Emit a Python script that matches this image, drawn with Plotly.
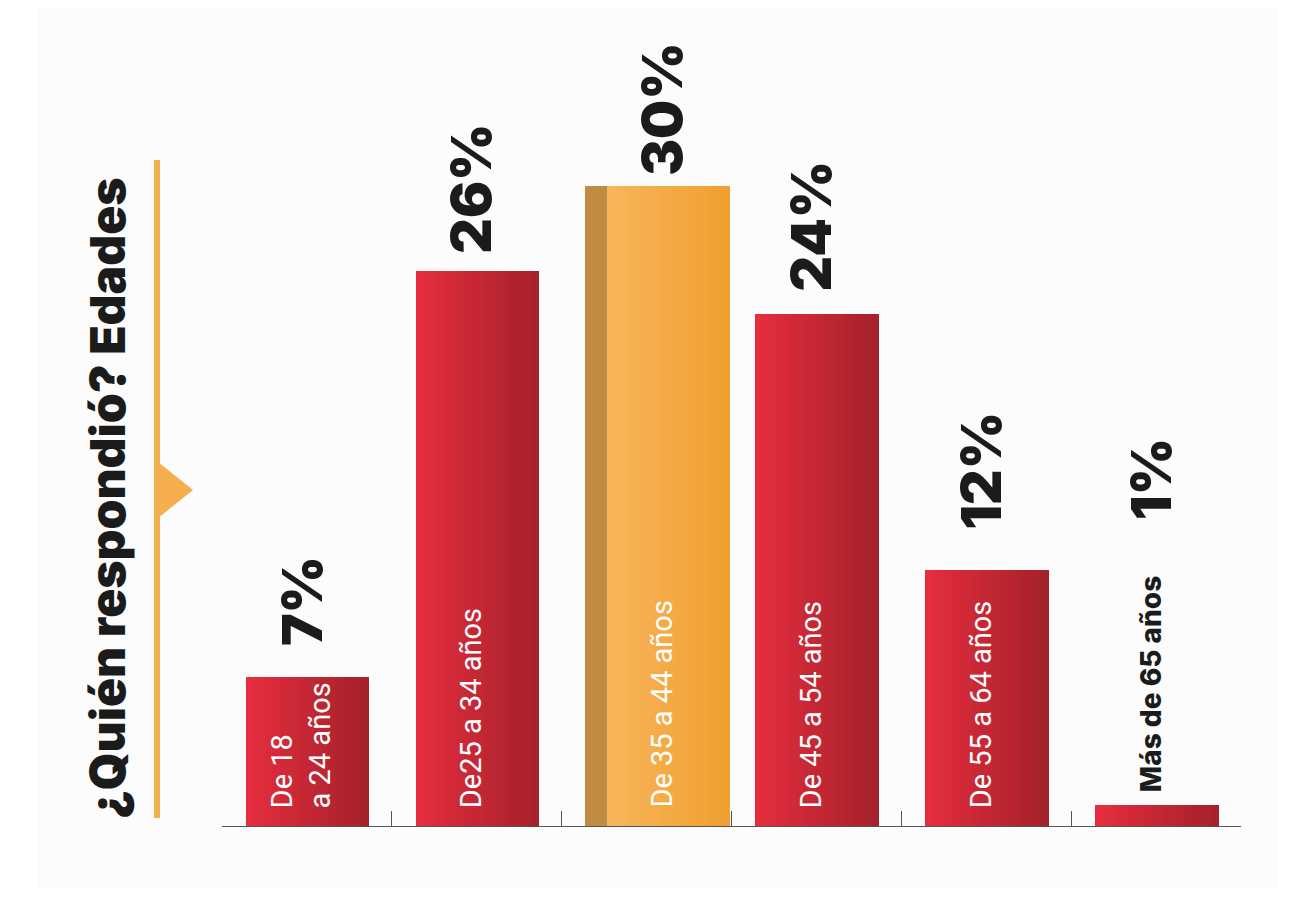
import plotly.graph_objects as go

# ── Data ─────────────────────────────────────────────────────────────────────
categories = ["De 18<br>a 24 años", "De25 a 34 años", "De 35 a 44 años",
              "De 45 a 54 años", "De 55 a 64 años", "Más de 65 años"]
values = [7, 26, 30, 24, 12, 1]
highlight = 2  # the orange bar

title = "¿Quién respondió? Edades"

# ── Style ────────────────────────────────────────────────────────────────────
# page body has an 8px margin, so the figure is a bit smaller than the window
PAD = 8
W, H = 1305 - 2 * PAD, 908 - 2 * PAD
RED_L, RED_R = (229, 45, 62), (165, 33, 43)
ORA_L, ORA_R = (248, 181, 90), (240, 160, 48)
ORA_SIDE = "rgb(192,139,66)"
ORANGE = "#F5AF4E"
INK = "#1B1B1B"
HEAVY = "Inter"
TEXT = "Roboto"

bar_w = 0.725
red_off = -0.36
ora_off = -0.237
side_off, side_w = -0.36, 0.128
n_slices = 18
value_gap_px = [29, 16, 8, 21, 38, 282]

x_idx = list(range(len(values)))


def px(x):
    return (x - PAD) / W


def py(y):
    return 1 - (y - PAD) / H


def mix(a, b, t):
    return "rgb({},{},{})".format(*[round(a[i] + (b[i] - a[i]) * t) for i in range(3)])


fig = go.Figure()

# gradient bars, built from thin overlaid slices
for k in range(n_slices):
    t = k / (n_slices - 1)
    offs, cols = [], []
    for i in x_idx:
        base = ora_off if i == highlight else red_off
        offs.append(base + k * bar_w / n_slices)
        cols.append(mix(ORA_L, ORA_R, t) if i == highlight else mix(RED_L, RED_R, t))
    fig.add_trace(go.Bar(
        x=x_idx, y=values, offset=offs, width=bar_w / n_slices + 0.003,
        marker=dict(color=cols, line=dict(width=0)),
        hoverinfo="skip", showlegend=False))

# darker side strip of the highlighted bar
fig.add_trace(go.Bar(
    x=[highlight], y=[values[highlight]], offset=side_off, width=side_w,
    marker=dict(color=ORA_SIDE, line=dict(width=0)),
    hoverinfo="skip", showlegend=False))

# ── Labels ───────────────────────────────────────────────────────────────────
for i, (cat, v) in enumerate(zip(categories, values)):
    cx = i + (ora_off + bar_w / 2 - 0.04 if i == highlight else red_off + bar_w / 2 - 0.035)
    fig.add_annotation(
        x=cx, y=v, text=f"{v}%", textangle=-90, showarrow=False,
        xanchor="center", yanchor="bottom", yshift=value_gap_px[i],
        font=dict(family=HEAVY, size=55, color=INK, weight=900))
    last = i == len(values) - 1
    fig.add_annotation(
        x=cx, y=v if last else 0, text=cat, textangle=-90,
        showarrow=False, align="left", xanchor="center", yanchor="bottom",
        yshift=10 if last else 16,
        font=dict(family=HEAVY if last else TEXT, size=28 if last else 29,
                  color=INK if last else "white",
                  weight=800 if last else 400))

# title + orange marker line
fig.add_annotation(
    xref="paper", yref="paper", x=px(107), y=py(498), text=title,
    textangle=-90, showarrow=False, xanchor="center", yanchor="middle",
    font=dict(family=HEAVY, size=48, color=INK, weight=900))
fig.add_shape(type="line", xref="paper", yref="paper",
              x0=px(157), x1=px(157), y0=py(160), y1=py(818),
              line=dict(color=ORANGE, width=6))
fig.add_shape(type="path", xref="paper", yref="paper",
              path=f"M {px(158)},{py(462)} L {px(193)},{py(490)} "
                   f"L {px(158)},{py(518)} Z",
              fillcolor=ORANGE, line=dict(width=0))

# faint panel behind everything
fig.add_shape(type="rect", xref="paper", yref="paper", layer="below",
              x0=px(38), x1=px(1278), y0=py(888), y1=1,
              fillcolor="#FCFCFC", line=dict(width=0))

# ── Layout ───────────────────────────────────────────────────────────────────
fig.update_layout(
    width=W, height=H, margin=dict(l=0, r=0, t=0, b=0),
    paper_bgcolor="white", plot_bgcolor="rgba(0,0,0,0)",
    barmode="overlay", bargap=0,
    xaxis=dict(domain=[px(222), px(1241)], range=[-0.5, 5.5],
               tickvals=[i - 0.5 for i in range(len(values) + 1)],
               ticks="inside", ticklen=15, tickcolor="#555", tickwidth=1,
               showticklabels=False, showline=True, linecolor="#555",
               linewidth=1, showgrid=False, zeroline=False, fixedrange=True),
    yaxis=dict(domain=[py(826), 1], range=[0, (826 - PAD) / 21.33],
               visible=False, fixedrange=True),
)

fig.write_html("out.html")
